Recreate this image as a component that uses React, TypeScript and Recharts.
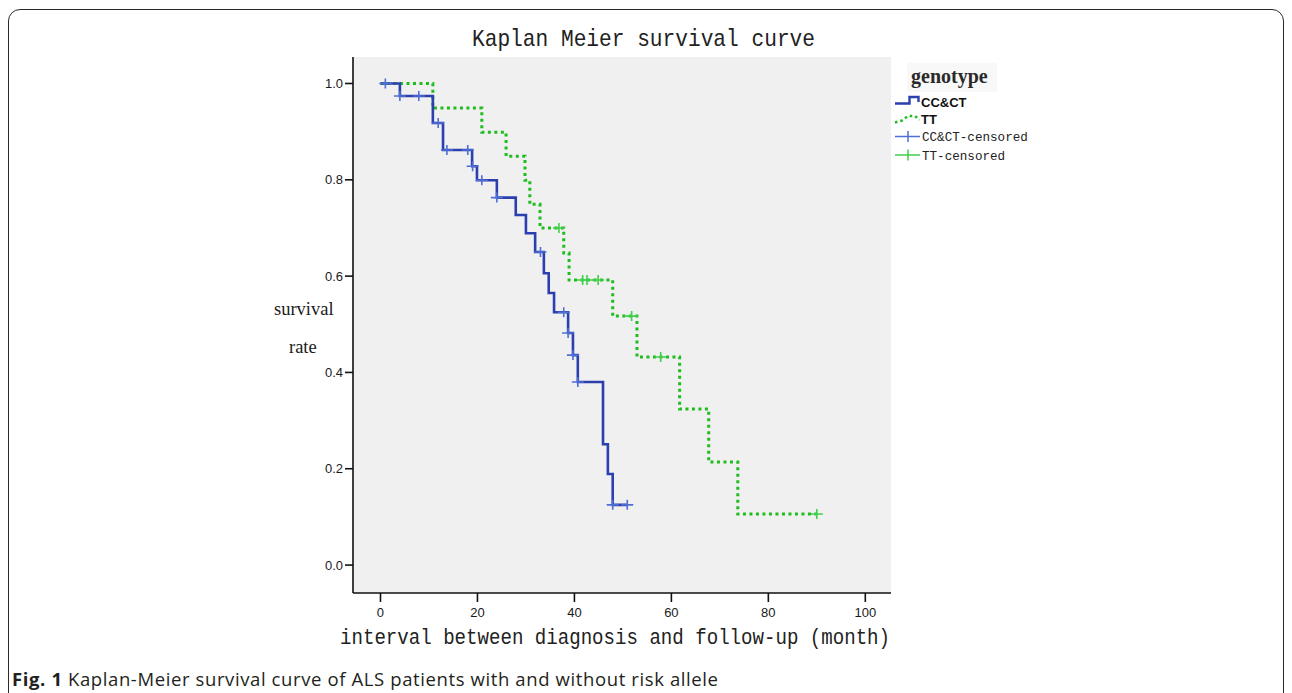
import React from 'react';
import { ComposedChart, Line, Scatter, XAxis, YAxis, CartesianGrid } from 'recharts';

const xTicks = [0, 20, 40, 60, 80, 100];
const yTicks = [0, 0.2, 0.4, 0.6, 0.8, 1.0];

// CC&CT group: event (step) times and survival after each step
const ccTimes = [0, 4.0, 10.8, 12.9, 18.9, 19.9, 24.0, 27.9, 30.0, 31.9, 33.7, 34.7, 35.8, 38.7, 39.7, 40.7, 45.9, 46.9, 47.9, 50.9];
const ccSurvival = [1.0, 0.974, 0.918, 0.862, 0.828, 0.799, 0.763, 0.727, 0.689, 0.65, 0.606, 0.565, 0.525, 0.482, 0.436, 0.38, 0.251, 0.189, 0.125, 0.125];
const ccCensoredTimes = [1.0, 4.0, 7.9, 11.9, 13.7, 18.0, 19.0, 20.9, 24.0, 33.0, 37.8, 38.7, 39.7, 40.7, 47.9, 50.9];

// TT group
const ttTimes = [0, 10.8, 20.9, 25.9, 29.8, 30.8, 32.9, 37.8, 38.9, 47.9, 52.9, 61.7, 67.7, 73.7, 90.0];
const ttSurvival = [1.0, 0.949, 0.899, 0.849, 0.799, 0.749, 0.7, 0.648, 0.592, 0.517, 0.432, 0.324, 0.214, 0.106, 0.106];
const ttCensoredTimes = [36.8, 41.7, 42.6, 44.9, 51.8, 57.8, 90.0];

const stepAt = (times: number[], surv: number[], t: number) => {
  let v = surv[0];
  for (let i = 0; i < times.length; i++) if (times[i] <= t) v = surv[i];
  return v;
};

const ccLine = ccTimes.map((t, i) => ({ t, s: ccSurvival[i] }));
const ttLine = ttTimes.map((t, i) => ({ t, s: ttSurvival[i] }));
const ccCens = ccCensoredTimes.map((t) => ({ t, s: stepAt(ccTimes, ccSurvival, t) }));
const ttCens = ttCensoredTimes.map((t) => ({ t, s: stepAt(ttTimes, ttSurvival, t) }));

const X_DOMAIN: [number, number] = [-5.67, 105.3];
const Y_DOMAIN: [number, number] = [-0.058, 1.055];

const BLUE = '#2b3fae';
const BLUE_C = '#4f6fd6';
const GREEN = '#1ebd1e';
const GREEN_C = '#3fcf4a';

const plus = (color: string) => (p: any) => (
  <path
    d={`M${p.cx - 6},${p.cy}h12M${p.cx},${p.cy - 5}v10`}
    stroke={color}
    strokeWidth={1.6}
    fill="none"
  />
);

const tickStyle = { fill: '#1a1a1a', fontSize: 13, fontFamily: "'Liberation Sans', Arial, sans-serif" };

export default function App() {
  return (
    <div style={{ position: 'fixed', left: 0, top: 0, width: 1292, height: 693, overflow: 'hidden', background: '#fff' }}>
      <div
        style={{
          position: 'absolute', left: 8, top: 9, width: 1276, height: 720,
          border: '1.5px solid #2a2a2a', borderRadius: 12, boxSizing: 'border-box',
        }}
      />
      <div style={{ position: 'absolute', left: 0, top: 0 }}>
        <ComposedChart width={1292} height={693} margin={{ top: 57, right: 401, bottom: 70, left: 293 }}>
          <CartesianGrid fill="#f0f0f0" horizontal={false} vertical={false} stroke="none" />
          <XAxis
            type="number" dataKey="t" domain={X_DOMAIN} ticks={xTicks} allowDataOverflow height={30}
            tickSize={9} tickMargin={6}
            axisLine={{ stroke: '#111', strokeWidth: 1.6 }} tickLine={{ stroke: '#111', strokeWidth: 1.6 }}
            tick={tickStyle}
          />
          <XAxis xAxisId="top" orientation="top" type="number" domain={X_DOMAIN} allowDataOverflow
            height={0} tick={false} tickLine={false} axisLine={{ stroke: '#555', strokeWidth: 1.6 }} />
          <YAxis
            type="number" dataKey="s" domain={Y_DOMAIN} ticks={yTicks} allowDataOverflow width={60}
            tickSize={8} tickMargin={2} tickFormatter={(v: number) => v.toFixed(1)}
            axisLine={{ stroke: '#111', strokeWidth: 1.6 }} tickLine={{ stroke: '#111', strokeWidth: 1.6 }}
            tick={tickStyle}
          />
          <YAxis yAxisId="right" orientation="right" type="number" domain={Y_DOMAIN} allowDataOverflow
            width={0} tick={false} tickLine={false} axisLine={{ stroke: '#555', strokeWidth: 1.6 }} />
          <Line data={ttLine} dataKey="s" type="stepAfter" stroke={GREEN} strokeWidth={3}
            strokeDasharray="3 3.5" dot={false} activeDot={false} isAnimationActive={false} />
          <Line data={ccLine} dataKey="s" type="stepAfter" stroke={BLUE} strokeWidth={2.6}
            dot={false} activeDot={false} isAnimationActive={false} />
          <Scatter data={ttCens} dataKey="s" shape={plus(GREEN_C)} isAnimationActive={false} />
          <Scatter data={ccCens} dataKey="s" shape={plus(BLUE_C)} isAnimationActive={false} />
        </ComposedChart>
      </div>
      <svg width={1292} height={693} style={{ position: 'absolute', left: 0, top: 0, pointerEvents: 'none' }}>
        <text x={472} y={46} fontFamily="'Liberation Mono', monospace" fontSize={24} fill="#222"
          textLength={343} lengthAdjust="spacingAndGlyphs">Kaplan Meier survival curve</text>
        <text x={340} y={644} fontFamily="'Liberation Mono', monospace" fontSize={22} fill="#222"
          textLength={550} lengthAdjust="spacingAndGlyphs">interval between diagnosis and follow-up (month)</text>
        <text x={274} y={315} fontFamily="'Liberation Serif', serif" fontSize={18.5} fill="#1a1a1a">survival</text>
        <text x={289} y={353} fontFamily="'Liberation Serif', serif" fontSize={18.5} fill="#1a1a1a">rate</text>

        {/* legend */}
        <rect x={907} y={63} width={90} height={29} fill="#f8f8f8" />
        <text x={911} y={83} fontFamily="'Liberation Serif', serif" fontWeight="bold" fontSize={20} fill="#2a2a2a">genotype</text>
        <path d="M895,103.5H909.5V97H918.5V102" stroke={BLUE} strokeWidth={2.4} fill="none" />
        <text x={921} y={106.5} fontFamily="'Liberation Sans', Arial, sans-serif" fontWeight="bold" fontSize={13} fill="#111">CC&amp;CT</text>
        <path d="M895,122.5L902,120.5L908,116H915L919.5,120" stroke={GREEN} strokeWidth={2.6} strokeDasharray="2.5 3" fill="none" />
        <text x={921} y={124} fontFamily="'Liberation Sans', Arial, sans-serif" fontWeight="bold" fontSize={13} fill="#111">TT</text>
        <path d="M895,136.5H920M908,131V142" stroke={BLUE_C} strokeWidth={1.5} fill="none" />
        <text x={922} y={141} fontFamily="'Liberation Mono', monospace" fontSize={12.6} fill="#222">CC&amp;CT-censored</text>
        <path d="M895,155H920M908,149.5V160.5" stroke={GREEN_C} strokeWidth={1.5} fill="none" />
        <text x={922} y={159.5} fontFamily="'Liberation Mono', monospace" fontSize={12.6} fill="#222">TT-censored</text>

        <text x={12} y={686} fontFamily="'Open Sans', sans-serif" fontSize={18.5} fill="#231f20"
          textLength={706} lengthAdjust="spacing">
          <tspan fontWeight="bold">Fig. 1</tspan>
          <tspan> Kaplan-Meier survival curve of ALS patients with and without risk allele</tspan>
        </text>
      </svg>
    </div>
  );
}
